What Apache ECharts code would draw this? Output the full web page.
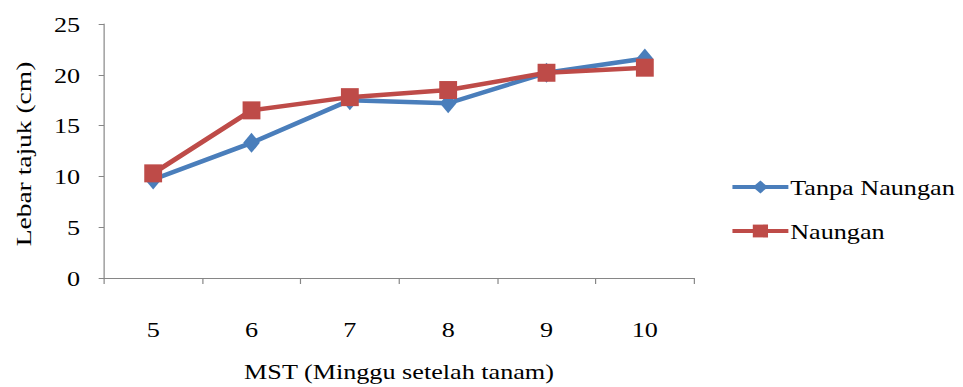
<!DOCTYPE html>
<html lang="en">
<head>
  <meta charset="UTF-8">
  <script src="https://cdn.jsdelivr.net/npm/echarts@6/dist/echarts.min.js"></script>
  <title>Lebar tajuk</title>
  <style>
    html, body { margin: 0; padding: 0; background: #fff; overflow: hidden; }
    /* the original text runs wide, so draw narrower and stretch along x */
    #chart { width: 809px; height: 387px; transform: scaleX(1.19); transform-origin: left top; }
  </style>
</head>
<body>
  <div id="chart"></div>
<script>
  // weeks after planting
  var weeks = ['5', '6', '7', '8', '9', '10'];
  var tanpaNaungan = [9.7, 13.3, 17.5, 17.2, 20.2, 21.6];
  var naungan = [10.3, 16.5, 17.8, 18.5, 20.2, 20.7];

  var stretch = 1.19;
  var font = 'Liberation Serif';
  var axisColor = '#868686';
  var blue = '#4a7ebb', red = '#be4b48';

  var myChart = echarts.init(document.getElementById('chart'), null, { renderer: 'svg' });
  myChart.setOption({
    animation: false,
    textStyle: { fontFamily: font, color: '#000' },
    grid: { left: 87.4, right: 225.8, top: 24, bottom: 104, containLabel: false },
    legend: {
      orient: 'vertical',
      left: 608.5,
      top: 171,
      itemWidth: 47,
      itemHeight: 16,
      itemGap: 22,
      textStyle: { fontFamily: font, fontSize: 22, color: '#000', padding: [0, 0, 0, -3.5] },
      data: [
        { name: 'Tanpa Naungan', lineStyle: { width: 4, color: blue } },
        { name: 'Naungan', lineStyle: { width: 4, color: red } }
      ]
    },
    // y axis title, stretched along its baseline like the other text
    graphic: [{
      type: 'text',
      x: 23 / stretch,
      y: 154,
      originX: 0,
      originY: 0,
      rotation: Math.PI / 2,
      scaleX: 1.25,
      scaleY: 1 / stretch,
      style: {
        text: 'Lebar tajuk (cm)',
        font: '22px "Liberation Serif"',
        fill: '#000',
        align: 'center',
        verticalAlign: 'middle'
      }
    }],
    xAxis: {
      type: 'category',
      data: weeks,
      boundaryGap: true,
      name: 'MST (Minggu setelah tanam)',
      nameLocation: 'middle',
      nameGap: 82,
      nameTextStyle: { fontFamily: font, fontSize: 22, color: '#000' },
      axisLine: { lineStyle: { color: axisColor, width: 1 } },
      axisTick: { show: true, length: 6, lineStyle: { color: axisColor } },
      axisLabel: { fontFamily: font, fontSize: 22, color: '#000', margin: 40 }
    },
    yAxis: {
      type: 'value',
      min: 0,
      max: 25,
      interval: 5,
      axisLine: { show: true, lineStyle: { color: axisColor, width: 1 } },
      axisTick: { show: true, length: 4.5, lineStyle: { color: axisColor } },
      splitLine: { show: false },
      axisLabel: { fontFamily: font, fontSize: 22, color: '#000', margin: 20 }
    },
    series: [
      {
        name: 'Tanpa Naungan',
        type: 'line',
        data: tanpaNaungan,
        symbol: 'diamond',
        symbolSize: [14, 20],
        lineStyle: { color: blue, width: 4.5 },
        itemStyle: { color: blue },
        z: 2
      },
      {
        name: 'Naungan',
        type: 'line',
        data: naungan,
        symbol: 'rect',
        symbolSize: [15, 18],
        lineStyle: { color: red, width: 4.5 },
        itemStyle: { color: red },
        z: 3
      }
    ]
  });
</script>
</body>
</html>
